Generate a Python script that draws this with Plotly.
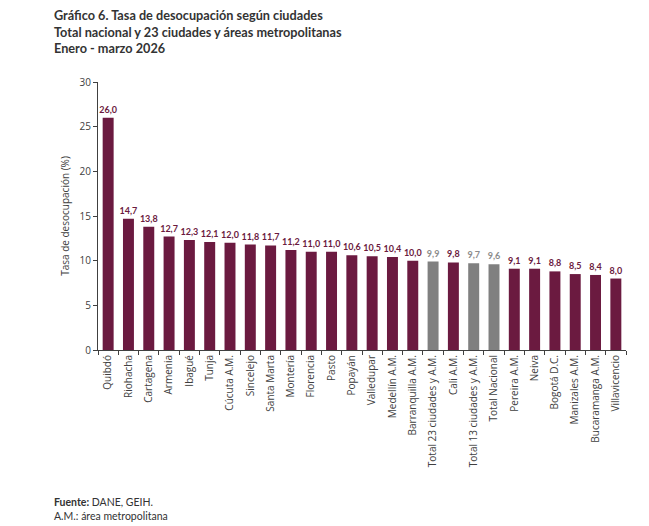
import plotly.graph_objects as go

ciudades = ["Quibdó", "Riohacha", "Cartagena", "Armenia", "Ibagué", "Tunja", "Cúcuta A.M.",
            "Sincelejo", "Santa Marta", "Montería", "Florencia", "Pasto", "Popayán",
            "Valledupar", "Medellín A.M.", "Barranquilla A.M.", "Total 23 ciudades y A.M.",
            "Cali A.M.", "Total 13 ciudades y A.M.", "Total Nacional", "Pereira A.M.",
            "Neiva", "Bogotá D.C.", "Manizales A.M.", "Bucaramanga A.M.", "Villavicencio"]
tasa = [26.0, 14.7, 13.8, 12.7, 12.3, 12.1, 12.0, 11.8, 11.7, 11.2, 11.0, 11.0, 10.6,
        10.5, 10.4, 10.0, 9.9, 9.8, 9.7, 9.6, 9.1, 9.1, 8.8, 8.5, 8.4, 8.0]
totales = ["Total 23 ciudades y A.M.", "Total 13 ciudades y A.M.", "Total Nacional"]

MAROON = "#6B1A40"
GRAY = "#808080"
bar_colors = [GRAY if c in totales else MAROON for c in ciudades]
text_colors = ["#8c8c8c" if c in totales else "#6B1A40" for c in ciudades]

FONT = "Open Sans"
LABEL_FONT = "Lato, Open Sans"
TITLE_FONT = "Lato, Open Sans"
fig = go.Figure(go.Bar(
    x=ciudades, y=tasa, marker_color=bar_colors, marker_line_width=0,
    texttemplate="<b>%{y:.1f}</b>", textposition="outside",
    textfont=dict(color=text_colors, size=9, family=LABEL_FONT),
    constraintext="none", cliponaxis=False,
))

PW, PH = 528, 268
fig.update_layout(
    width=649, height=526,
    margin=dict(l=98, r=23, t=82, b=176),
    plot_bgcolor="white", paper_bgcolor="white",
    separators=",.",
    bargap=0.46,
    showlegend=False,
    font=dict(family=FONT, color="#404040", size=10),
    xaxis=dict(showline=True, linecolor="#404040", linewidth=1, ticks="outside",
               tickson="boundaries", ticklen=4, tickcolor="#404040", tickangle=-90,
               tickfont=dict(size=10, color="#404040")),
    yaxis=dict(range=[0, 30], dtick=5, showline=True, linecolor="#404040", linewidth=1,
               ticks="outside", ticklen=4, tickcolor="#404040", showgrid=False,
               zeroline=False, tickfont=dict(size=10, color="#404040"),
               title=dict(text="Tasa de desocupación (%)", font=dict(size=10, color="#404040"),
                          standoff=8)),
    annotations=[
        dict(x=(52 - 98) / PW, y=1 + (82 - 5) / PH, xref="paper", yref="paper", showarrow=False,
             xanchor="left", yanchor="top", align="left",
             text="<b>Gráfico 6. Tasa de desocupación según ciudades<br>Total nacional y 23 ciudades y áreas metropolitanas<br>Enero - marzo 2026</b>",
             font=dict(size=12.7, color="#333333", family=TITLE_FONT)),
        dict(x=(52 - 98) / PW, y=-(494 - 350) / PH, xref="paper", yref="paper", showarrow=False,
             xanchor="left", yanchor="top", align="left",
             text="<b>Fuente:</b> DANE, GEIH.<br>A.M.: área metropolitana",
             font=dict(size=10.5, color="#333333", family=TITLE_FONT)),
    ],
)

fig.write_html("out.html")
